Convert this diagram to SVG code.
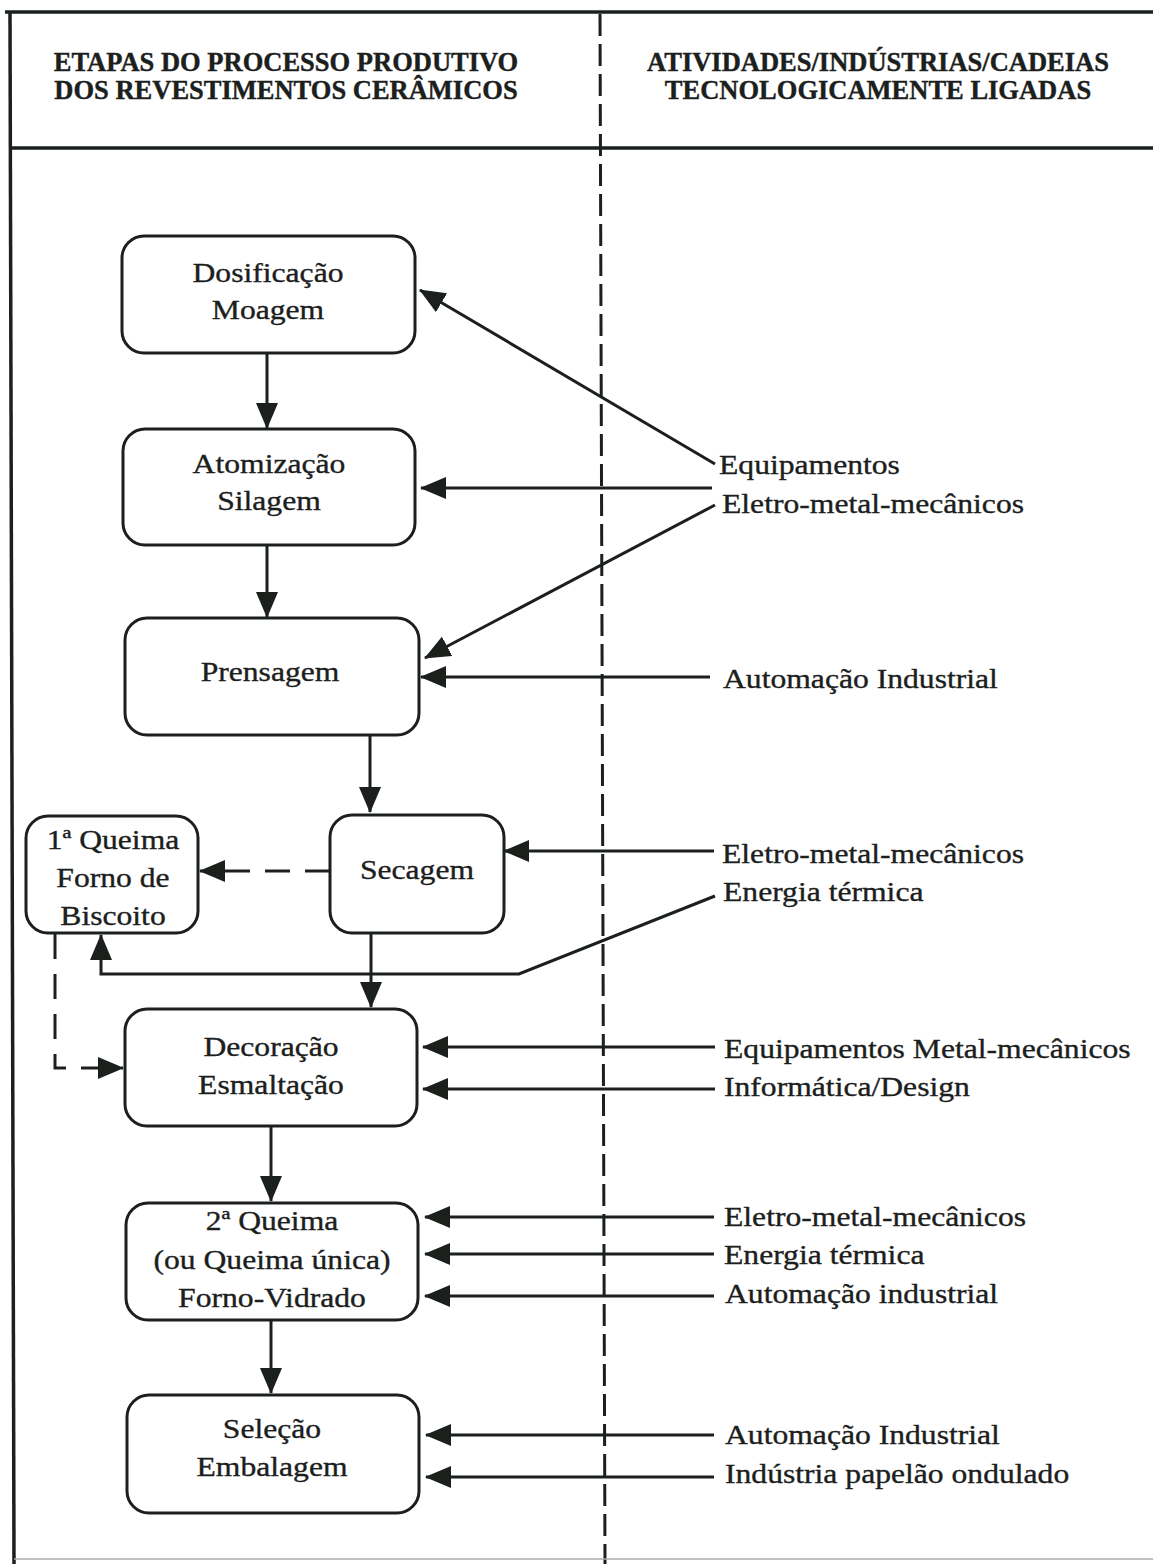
<svg xmlns="http://www.w3.org/2000/svg" width="1153" height="1564" viewBox="0 0 1153 1564">
<style>
.frame{stroke:#1b201d;stroke-width:3.5;fill:none}
.div{stroke:#1b201d;stroke-width:3;fill:none;stroke-dasharray:22 8}
.box{fill:#fff;stroke:#1b201d;stroke-width:3}
.c{stroke:#1b201d;stroke-width:3;fill:none}
.d{stroke:#1b201d;stroke-width:3;fill:none;stroke-dasharray:25 15}
.h{font-family:"Liberation Serif","Times New Roman",serif;font-weight:bold;font-size:26.5px;fill:#1b201d;stroke:#1b201d;stroke-width:0.4;text-anchor:middle}
.t{font-family:"Liberation Serif","Times New Roman",serif;font-size:28px;fill:#1b201d;stroke:#1b201d;stroke-width:0.35}
.m{text-anchor:middle}
</style>
<defs>
<marker id="ah" viewBox="0 0 26 22" refX="25" refY="11" markerWidth="26" markerHeight="22" markerUnits="userSpaceOnUse" orient="auto">
<path d="M0,0 L26,11 L0,22 Z" fill="#1b201d"/>
</marker>
</defs>
<rect width="1153" height="1564" fill="#fff"/>
<g id="frame">
<line class="frame" x1="5" y1="12" x2="1153" y2="12"/>
<line class="frame" x1="10" y1="148" x2="1153" y2="148" stroke-width="4.5"/>
<line class="frame" x1="10" y1="12" x2="14" y2="1564"/>
<line class="div" x1="600" y1="14" x2="605" y2="1564"/>
<line x1="14" y1="1559" x2="1153" y2="1559" stroke="#a9aeab" stroke-width="1.5"/>
</g>
<g id="headers">
<text class="h"><tspan x="286" y="71">ETAPAS DO PROCESSO PRODUTIVO</tspan><tspan x="286" y="99">DOS REVESTIMENTOS CERÂMICOS</tspan></text>
<text class="h"><tspan x="878" y="71">ATIVIDADES/INDÚSTRIAS/CADEIAS</tspan><tspan x="878" y="99">TECNOLOGICAMENTE LIGADAS</tspan></text>
</g>
<g id="connectors">
<line class="c" x1="267" y1="353" x2="267" y2="428" marker-end="url(#ah)"/>
<line class="c" x1="267" y1="545" x2="267" y2="617" marker-end="url(#ah)"/>
<line class="c" x1="370" y1="735" x2="370" y2="812" marker-end="url(#ah)"/>
<line class="c" x1="371" y1="933" x2="371" y2="1007" marker-end="url(#ah)"/>
<line class="c" x1="271" y1="1126" x2="271" y2="1201" marker-end="url(#ah)"/>
<line class="c" x1="271" y1="1320" x2="271" y2="1393" marker-end="url(#ah)"/>
<line class="d" x1="330" y1="871" x2="200" y2="871" marker-end="url(#ah)"/>
<polyline class="d" points="55,934 55,1068 123,1068" marker-end="url(#ah)"/>
<line class="c" x1="715" y1="464" x2="420" y2="290" marker-end="url(#ah)"/>
<line class="c" x1="712" y1="488" x2="421" y2="488" marker-end="url(#ah)"/>
<line class="c" x1="715" y1="505" x2="425" y2="658" marker-end="url(#ah)"/>
<line class="c" x1="710" y1="677" x2="421" y2="677" marker-end="url(#ah)"/>
<line class="c" x1="714" y1="851" x2="504" y2="851" marker-end="url(#ah)"/>
<polyline class="c" points="715,896 519,974 101,974 101,935" marker-end="url(#ah)"/>
<line class="c" x1="715" y1="1047" x2="423" y2="1047" marker-end="url(#ah)"/>
<line class="c" x1="715" y1="1089" x2="423" y2="1089" marker-end="url(#ah)"/>
<line class="c" x1="714" y1="1217" x2="425" y2="1217" marker-end="url(#ah)"/>
<line class="c" x1="714" y1="1254" x2="425" y2="1254" marker-end="url(#ah)"/>
<line class="c" x1="714" y1="1296" x2="425" y2="1296" marker-end="url(#ah)"/>
<line class="c" x1="714" y1="1435" x2="426" y2="1435" marker-end="url(#ah)"/>
<line class="c" x1="714" y1="1477" x2="426" y2="1477" marker-end="url(#ah)"/>
</g>
<g id="n-dosificacao">
<rect class="box" x="122" y="236" width="293" height="117" rx="22"/>
<text class="t m" transform="translate(268,282) scale(1.13,1)"><tspan x="0" y="0">Dosificação</tspan><tspan x="0" y="37">Moagem</tspan></text>
</g>
<g id="n-atomizacao">
<rect class="box" x="123" y="429" width="292" height="116" rx="22"/>
<text class="t m" transform="translate(269,473) scale(1.13,1)"><tspan x="0" y="0">Atomização</tspan><tspan x="0" y="37">Silagem</tspan></text>
</g>
<g id="n-prensagem">
<rect class="box" x="125" y="618" width="294" height="117" rx="22"/>
<text class="t m" transform="translate(270,681) scale(1.13,1)">Prensagem</text>
</g>
<g id="n-secagem">
<rect class="box" x="330" y="815" width="174" height="118" rx="22"/>
<text class="t m" transform="translate(417,879) scale(1.13,1)">Secagem</text>
</g>
<g id="n-queima1">
<rect class="box" x="26" y="816" width="172" height="117" rx="22"/>
<text class="t m" transform="translate(113,849) scale(1.13,1)"><tspan x="0" y="0">1ª Queima</tspan><tspan x="0" y="38">Forno de</tspan><tspan x="0" y="76">Biscoito</tspan></text>
</g>
<g id="n-decoracao">
<rect class="box" x="125" y="1009" width="292" height="117" rx="22"/>
<text class="t m" transform="translate(271,1056) scale(1.13,1)"><tspan x="0" y="0">Decoração</tspan><tspan x="0" y="38">Esmaltação</tspan></text>
</g>
<g id="n-queima2">
<rect class="box" x="126" y="1203" width="292" height="117" rx="22"/>
<text class="t m" transform="translate(272,1230) scale(1.13,1)"><tspan x="0" y="0">2ª Queima</tspan><tspan x="0" y="39">(ou Queima única)</tspan><tspan x="0" y="77">Forno-Vidrado</tspan></text>
</g>
<g id="n-selecao">
<rect class="box" x="127" y="1395" width="292" height="118" rx="22"/>
<text class="t m" transform="translate(272,1438) scale(1.13,1)"><tspan x="0" y="0">Seleção</tspan><tspan x="0" y="38">Embalagem</tspan></text>
</g>
<g id="labels">
<text class="t" transform="translate(719,474) scale(1.13,1)">Equipamentos</text>
<text class="t" transform="translate(722,513) scale(1.13,1)">Eletro-metal-mecânicos</text>
<text class="t" transform="translate(723,688) scale(1.13,1)">Automação Industrial</text>
<text class="t" transform="translate(722,863) scale(1.13,1)">Eletro-metal-mecânicos</text>
<text class="t" transform="translate(723,901) scale(1.13,1)">Energia térmica</text>
<text class="t" transform="translate(724,1058) scale(1.13,1)">Equipamentos Metal-mecânicos</text>
<text class="t" transform="translate(724,1096) scale(1.13,1)">Informática/Design</text>
<text class="t" transform="translate(724,1226) scale(1.13,1)">Eletro-metal-mecânicos</text>
<text class="t" transform="translate(724,1264) scale(1.13,1)">Energia térmica</text>
<text class="t" transform="translate(725,1303) scale(1.13,1)">Automação industrial</text>
<text class="t" transform="translate(725,1444) scale(1.13,1)">Automação Industrial</text>
<text class="t" transform="translate(725,1483) scale(1.13,1)">Indústria papelão ondulado</text>
</g>
</svg>
